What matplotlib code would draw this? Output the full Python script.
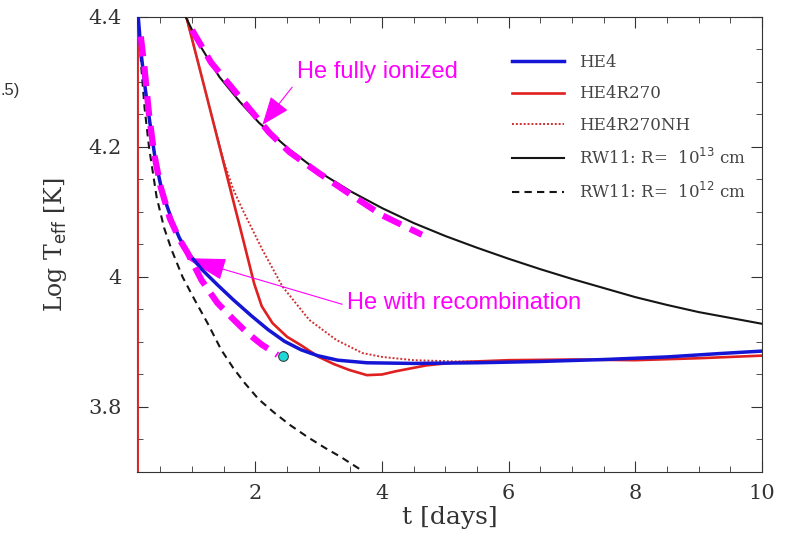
"""Effective temperature evolution of He-star models vs. RW11 analytic curves."""

import matplotlib.pyplot as plt
from matplotlib.ticker import MultipleLocator

# HE4 (blue)
t_he4 = [0.15, 0.20, 0.26, 0.33, 0.42, 0.53, 0.69, 0.80, 0.93, 1.15, 1.40, 1.65, 1.94, 2.20,
         2.46, 2.72, 2.98, 3.30, 3.76, 4.50, 5.50, 6.50, 7.50, 8.50, 9.30, 10.0]
y_he4 = [4.40, 4.34, 4.29, 4.24, 4.18, 4.13, 4.085, 4.06, 4.038, 4.012, 3.988, 3.965, 3.940,
         3.919, 3.901, 3.888, 3.879, 3.872, 3.868, 3.867, 3.868, 3.870, 3.873, 3.877, 3.882, 3.886]

# HE4R270 (red solid); the first two points are the initial spike along the left edge
t_r270 = [0.14, 0.14, 0.91, 1.20, 1.50, 1.80, 1.98, 2.10, 2.27, 2.50, 2.72, 3.00, 3.24,
          3.48, 3.76, 4.00, 4.22, 4.70, 5.20, 6.00, 7.00, 8.00, 9.00, 10.0]
y_r270 = [3.70, 4.62, 4.40, 4.29, 4.175, 4.06, 3.99, 3.955, 3.929, 3.908, 3.895, 3.877, 3.866,
          3.857, 3.849, 3.850, 3.855, 3.864, 3.869, 3.872, 3.873, 3.872, 3.875, 3.879]

# HE4R270NH (red dotted)
t_r270nh = [0.91, 1.20, 1.50, 1.65, 1.80, 2.11, 2.43, 2.85, 3.28, 3.69, 4.00, 4.50, 5.20, 6.00]
y_r270nh = [4.40, 4.29, 4.178, 4.135, 4.103, 4.042, 3.985, 3.934, 3.903, 3.883, 3.877, 3.872,
            3.870, 3.870]

# RW11 R = 10^13 cm (black solid)
t_rw13 = [0.90, 1.10, 1.43, 1.75, 2.06, 2.54, 3.00, 3.50, 4.00, 4.50, 5.00, 5.50, 6.00,
          6.50, 7.00, 7.50, 8.00, 8.50, 9.00, 9.50, 10.0]
y_rw13 = [4.40, 4.36, 4.308, 4.27, 4.237, 4.196, 4.162, 4.132, 4.106, 4.083, 4.063, 4.045, 4.028,
          4.012, 3.997, 3.983, 3.969, 3.957, 3.946, 3.937, 3.928]

# RW11 R = 10^12 cm (black dashed)
t_rw12 = [0.15, 0.20, 0.25, 0.32, 0.44, 0.56, 0.68, 0.85, 1.04, 1.25, 1.46, 1.65, 1.83,
          2.05, 2.30, 2.55, 2.82, 3.10, 3.35, 3.67]
y_rw12 = [4.40, 4.32, 4.26, 4.20, 4.123, 4.075, 4.041, 4.00, 3.965, 3.928, 3.888, 3.86, 3.837,
          3.812, 3.791, 3.772, 3.754, 3.737, 3.723, 3.703]

# Magenta guide curves
t_ion = [1.00, 1.30, 1.70, 2.22, 2.54, 3.00, 3.50, 4.00, 4.63]
y_ion = [4.38, 4.33, 4.283, 4.222, 4.192, 4.16, 4.127, 4.095, 4.065]
t_rec = [0.19, 0.25, 0.32, 0.40, 0.50, 0.65, 0.80, 0.93, 1.15, 1.40, 1.65, 1.87, 2.10, 2.35]
y_rec = [4.37, 4.32, 4.25, 4.19, 4.14, 4.09, 4.058, 4.037, 3.995, 3.96, 3.935, 3.914, 3.896, 3.88]

dot_t, dot_y = 2.43, 3.879

MAGENTA = "#ff00ff"
SERIF = "DejaVu Serif"
INK = "#333333"

fig = plt.figure(figsize=(7.85, 5.43), dpi=100)
ax = fig.add_axes([0.1745, 0.1308, 0.7962, 0.8379])

ax.plot(t_he4, y_he4, color="#1515d5", lw=2.5, label="HE4", zorder=4)
ax.plot(t_r270, y_r270, color="#e02020", lw=1.9, label="HE4R270", zorder=3)
ax.plot(t_r270nh, y_r270nh, color="#d03030", lw=1.4, ls=(0, (1, 1)), label="HE4R270NH", zorder=3)
ax.plot(t_rw13, y_rw13, color="#151515", lw=1.5, label=r"RW11: R=  10$^{13}$ cm", zorder=3)
ax.plot(t_rw12, y_rw12, color="#151515", lw=1.5, ls=(0, (3.5, 2.5)),
        label=r"RW11: R=  10$^{12}$ cm", zorder=3)

ax.plot(t_ion, y_ion, color=MAGENTA, lw=4.5, ls=(0, (3.2, 1.6)), zorder=5)
ax.plot(t_rec, y_rec, color=MAGENTA, lw=4.5, ls=(0, (3.2, 1.6)), zorder=5)
ax.plot([dot_t], [dot_y], "o", ms=7, mfc="#20d8d8", mec="#404040", mew=0.8, zorder=6)

ax.text(2.66, 4.315, "He fully ionized", color=MAGENTA, fontsize=17, va="center",
        ha="left", family="Liberation Sans")
ax.annotate("", xy=(2.11, 4.234), xytext=(2.58, 4.292),
            arrowprops=dict(arrowstyle="-|>,head_length=0.9,head_width=0.35", color=MAGENTA,
                            lw=0.8, shrinkA=0, shrinkB=0, mutation_scale=20))
ax.text(3.45, 3.96, "He with recombination", color=MAGENTA, fontsize=17, va="center",
        ha="left", family="Liberation Sans")
ax.annotate("", xy=(0.9, 4.029), xytext=(3.37, 3.958),
            arrowprops=dict(arrowstyle="-|>,head_length=1.3,head_width=0.35", color=MAGENTA,
                            lw=0.8, shrinkA=0, shrinkB=0, mutation_scale=20))

ax.set_xlim(0.13, 10)
ax.set_ylim(3.7, 4.4)
ax.set_xticks([2, 4, 6, 8, 10])
ax.set_yticks([3.8, 4.0, 4.2, 4.4])
ax.set_yticklabels(["3.8", "4", "4.2", "4.4"])
ax.xaxis.set_minor_locator(MultipleLocator(0.5))
ax.yaxis.set_minor_locator(MultipleLocator(0.05))
ax.tick_params(which="both", direction="in", top=True, right=True, color=INK)
ax.tick_params(which="major", length=8, labelsize=15)
ax.tick_params(axis="y", which="major", pad=11)
ax.tick_params(axis="x", which="major", pad=9)
ax.tick_params(which="minor", length=4)
for lab in ax.get_xticklabels() + ax.get_yticklabels():
    lab.set_family(SERIF)
    lab.set_color(INK)
for sp in ax.spines.values():
    sp.set_color(INK)

ax.set_xlabel("t [days]", family=SERIF, fontsize=18, color=INK, labelpad=2)
ax.set_ylabel(r"Log T$_{\rm eff}$ [K]", family=SERIF, fontsize=17, color=INK, labelpad=14)

leg = ax.legend(loc="upper left", bbox_to_anchor=(0.6, 0.918), frameon=False,
                borderpad=0, borderaxespad=0, prop={"family": SERIF, "size": 12},
                handlelength=3.1, labelspacing=0.85, handletextpad=0.9)
for txt in leg.get_texts():
    txt.set_color("#444444")

fig.text(0.0, 0.834, ".5)", fontsize=12, family="Liberation Sans", color=INK, va="center")

fig.savefig("out.png", dpi=100)
